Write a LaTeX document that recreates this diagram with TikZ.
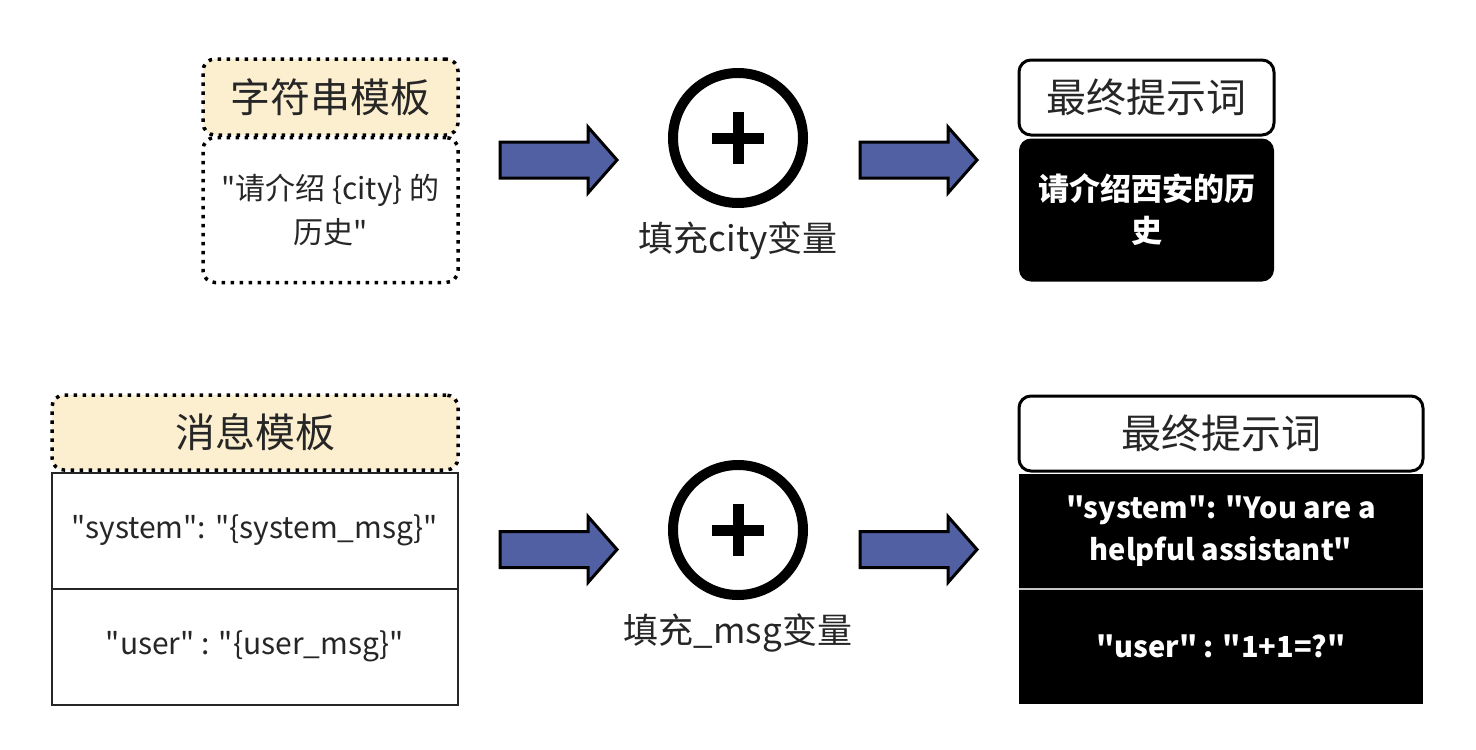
\documentclass[tikz,border=0pt]{standalone}
\usepackage{fontspec}
\setmainfont{Noto Sans CJK SC}[Ligatures=TeXOff]
\usetikzlibrary{positioning}
\definecolor{tplyellow}{HTML}{FCEFCF}
\definecolor{arrowblue}{HTML}{5060A3}
\definecolor{inkgray}{HTML}{262626}

\tikzset{
    dotbox/.style={draw=black, line width=3.5pt, dash pattern=on 3.5pt off 5.5pt,
        rounded corners=12pt, inner sep=0pt, text=inkgray, align=center},
    rowbox/.style={draw=inkgray, line width=2pt, inner sep=0pt, text=inkgray,
        minimum width=406pt, minimum height=116pt, font=\fontsize{30}{40}\selectfont},
    headbox/.style={draw=black, line width=3pt, rounded corners=12pt, fill=white,
        inner sep=0pt, text=inkgray, font=\fontsize{40}{48}\selectfont},
    darkbox/.style={fill=black, inner sep=0pt, text=white, align=center,
        font=\fontsize{31}{42}\selectfont\bfseries},
    plusring/.style={circle, draw=black, line width=10pt, minimum size=130pt, inner sep=0pt},
    steplabel/.style={text=inkgray, font=\fontsize{35}{42}\selectfont},
    pics/fillarrow/.style={code={
        \draw[fill=arrowblue, draw=black, line width=3pt, line join=miter]
            (0,-18) -- (88,-18) -- (88,-33) -- (117,0) -- (88,33) -- (88,18) -- (0,18) -- cycle;
    }}
}

\begin{document}
\begin{tikzpicture}[x=1pt, y=-1pt]
    \fill[white] (0,0) rectangle (1476,750);
    \useasboundingbox (0,0) rectangle (1476,750);

    % String template
    \node[dotbox, fill=tplyellow, minimum width=255pt, minimum height=76pt,
        font=\fontsize{40}{48}\selectfont] (strhead) at (330.5,97) {字符串模板};
    \node[dotbox, fill=white, minimum width=255pt, minimum height=145pt,
        font=\fontsize{30}{44}\selectfont] (strbody) at (330.5,210)
        {"请介绍 \{city\} 的\\历史"};

    % Message template
    \node[dotbox, fill=tplyellow, minimum width=406pt, minimum height=75pt,
        font=\fontsize{40}{48}\selectfont] (msghead) at (255,432.5) {消息模板};
    \node[rowbox] (sysrow) at (255,530.5) {"system": "\{system\_msg\}"};
    \node[rowbox] (userrow) at (255,646.5) {"user" : "\{user\_msg\}"};

    % Fill steps
    \foreach \name/\y/\txt in {fill1/138/填充city变量, fill2/530/填充\_msg变量} {
        \node[plusring] (\name) at (738,\y) {};
        \draw[line width=11pt] (\name.center) ++(-26,0) -- ++(52,0);
        \draw[line width=11pt] (\name.center) ++(0,-26) -- ++(0,52);
        \node[steplabel, below=10pt of \name] (\name-lbl) {\txt};
    }

    % Block arrows
    \foreach \y in {160,549.5} {
        \pic at (500,\y) {fillarrow};
        \pic at (860,\y) {fillarrow};
    }

    % Final prompts
    \node[headbox, minimum width=255pt, minimum height=75pt] (fhead1) at (1146.5,97.5) {最终提示词};
    \node[darkbox, rounded corners=12pt, minimum width=255pt, minimum height=143pt]
        (fbody1) at (1146.5,210) {请介绍西安的历\\史};

    \node[headbox, minimum width=404pt, minimum height=75pt] (fhead2) at (1221,433.5) {最终提示词};
    \node[darkbox, minimum width=404pt, minimum height=115pt, font=\fontsize{29}{42}\selectfont\bfseries]
        (fsys) at (1221,531.5) {"system": "You are a\\helpful assistant"};
    \node[darkbox, minimum width=404pt, minimum height=114pt, font=\fontsize{29}{42}\selectfont\bfseries]
        (fuser) at (1221,646.5) {"user" : "1+1=?"};
    \draw[gray!45, line width=2pt] (fsys.south west) -- (fsys.south east);
\end{tikzpicture}
\end{document}
